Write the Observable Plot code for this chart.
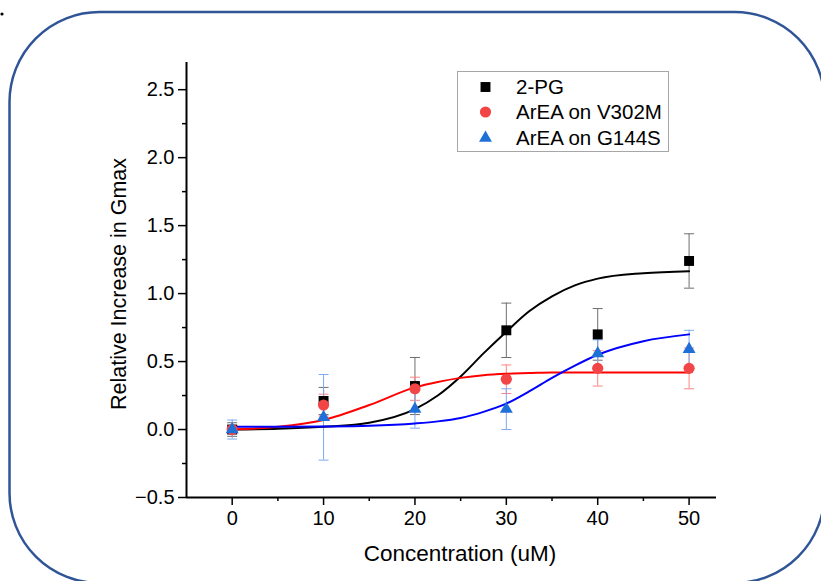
<!DOCTYPE html>
<html>
<head>
<meta charset="utf-8">
<script src="https://cdn.jsdelivr.net/npm/d3@7"></script>
<script src="https://cdn.jsdelivr.net/npm/@observablehq/plot@0.6"></script>
<style>
  html, body { margin: 0; padding: 0; background: #fff; }
  #chart svg { display: block; }
</style>
</head>
<body>
<div id="chart"></div>
<script>
// ---- data ----
const concentrations = [0, 10, 20, 30, 40, 50];
const seriesNames = ["2-PG", "ArEA on V302M", "ArEA on G144S"];

const pgMean   = [0.00, 0.21, 0.32, 0.73, 0.70, 1.24];
const pgErr    = [0.05, 0.10, 0.21, 0.20, 0.19, 0.20];
const v302mMean = [0.00, 0.18, 0.30, 0.37, 0.45, 0.45];
const v302mErr  = [0.03, 0.08, 0.085, 0.105, 0.13, 0.15];
const g144sMean = [0.00, 0.09, 0.15, 0.15, 0.56, 0.59];
const g144sErr  = [0.07, 0.315, 0.14, 0.15, 0.10, 0.14];

// fitted curves
const fitX      = [0, 5, 10, 15, 20, 22.5, 25, 27.5, 30, 32.5, 35, 37.5, 40, 45, 50];
const pgFit     = [0.00, 0.005, 0.02, 0.05, 0.15, 0.25, 0.39, 0.56, 0.72, 0.87, 0.98, 1.06, 1.11, 1.15, 1.165];
const v302mFit  = [0.00, 0.02, 0.07, 0.18, 0.31, 0.35, 0.38, 0.40, 0.41, 0.415, 0.42, 0.42, 0.42, 0.42, 0.42];
const g144sFit  = [0.02, 0.02, 0.022, 0.028, 0.045, 0.06, 0.085, 0.13, 0.19, 0.28, 0.38, 0.47, 0.55, 0.65, 0.70];

const yTicks = [-0.5, 0.0, 0.5, 1.0, 1.5, 2.0, 2.5];
const yMinorTicks = [-0.25, 0.25, 0.75, 1.25, 1.75, 2.25];
const xTicks = [0, 10, 20, 30, 40, 50];
const xMinorTicks = [5, 15, 25, 35, 45];

const xTitle = "Concentration (uM)";
const yTitle = "Relative Increase in Gmax";

// ---- styles ----
const styles = [
  {symbol: "square",   r: 5.6, fill: "#000000", err: "#6e6e6e", line: "#000000"},
  {symbol: "circle",   r: 5.6, fill: "#F24646", err: "#FF8585", line: "#FF0000"},
  {symbol: "triangle", r: 4.8, fill: "#1F6FD8", err: "#7CAAEE", line: "#0000FF"}
];

const means = [pgMean, v302mMean, g144sMean];
const errs = [pgErr, v302mErr, g144sErr];
const fits = [pgFit, v302mFit, g144sFit];

const points = [];
seriesNames.forEach((name, s) => {
  concentrations.forEach((c, i) => {
    points.push({s, name, x: c, y: means[s][i], lo: means[s][i] - errs[s][i], hi: means[s][i] + errs[s][i]});
  });
});
const curves = [];
seriesNames.forEach((name, s) => {
  fitX.forEach((x, i) => curves.push({s, name, x, y: fits[s][i]}));
});

const capSymbol = {
  draw(ctx, size) {
    const w = Math.sqrt(size / Math.PI);
    ctx.moveTo(-w, 0);
    ctx.lineTo(w, 0);
  }
};

const marks = [];
// error bars
styles.forEach((st, s) => {
  const d = points.filter(p => p.s === s);
  marks.push(Plot.ruleX(d, {x: "x", y1: "lo", y2: "hi", stroke: st.err, strokeWidth: 1}));
  marks.push(Plot.dot(d, {x: "x", y: "lo", symbol: capSymbol, r: 5, stroke: st.err, strokeWidth: 1, fill: "none"}));
  marks.push(Plot.dot(d, {x: "x", y: "hi", symbol: capSymbol, r: 5, stroke: st.err, strokeWidth: 1, fill: "none"}));
});
// fitted curves
styles.forEach((st, s) => {
  marks.push(Plot.line(curves.filter(c => c.s === s), {x: "x", y: "y", stroke: st.line, strokeWidth: 2, curve: "monotone-x"}));
});
// markers
styles.forEach((st, s) => {
  marks.push(Plot.dot(points.filter(p => p.s === s), {x: "x", y: "y", symbol: st.symbol, r: st.r, fill: st.fill, stroke: "none"}));
});

const chart = Plot.plot({
  width: 821,
  height: 581,
  marginLeft: 186,
  marginRight: 105,
  marginTop: 62,
  marginBottom: 84,
  style: {fontFamily: "'Liberation Sans', Arial, sans-serif", background: "#fff", color: "#000"},
  x: {domain: [-5, 53]},
  y: {domain: [-0.5, 2.7]},
  marks: [
    ...marks,
    Plot.axisY(yTicks, {tickSize: 8, tickPadding: 4, tickFormat: d3.format(".1f"), fontSize: 20, strokeWidth: 1.5, label: null}),
    Plot.axisY(yMinorTicks, {tickSize: 4, tickFormat: () => "", strokeWidth: 1.5, label: null}),
    Plot.axisX(xTicks, {tickSize: 8, tickPadding: 5, tickFormat: d3.format("d"), fontSize: 20, strokeWidth: 1.5, label: null}),
    Plot.axisX(xMinorTicks, {tickSize: 4, tickFormat: () => "", strokeWidth: 1.5, label: null}),
    Plot.ruleX([-5], {strokeWidth: 2}),
    Plot.ruleY([-0.5], {strokeWidth: 2})
  ]
});

document.getElementById("chart").appendChild(chart);

// ---- decorations: frame, titles, legend ----
const svg = d3.select(chart);
svg.insert("rect", ":first-child")
  .attr("x", 9.5).attr("y", 12).attr("width", 815).attr("height", 571)
  .attr("rx", 90).attr("ry", 90)
  .attr("fill", "none").attr("stroke", "#2F5597").attr("stroke-width", 2.5);
svg.append("circle").attr("cx", 2).attr("cy", 14).attr("r", 1.6).attr("fill", "#000");

svg.append("text")
  .attr("x", 460).attr("y", 561)
  .attr("text-anchor", "middle")
  .attr("font-size", 22.5)
  .attr("fill", "#000")
  .text(xTitle);
svg.append("text")
  .attr("transform", "translate(126,284) rotate(-90)")
  .attr("text-anchor", "middle")
  .attr("font-size", 21.5)
  .attr("fill", "#000")
  .text(yTitle);

const lg = svg.append("g");
lg.append("rect")
  .attr("x", 457.5).attr("y", 71.5).attr("width", 211).attr("height", 80)
  .attr("fill", "#fff").attr("stroke", "#a6a6a6").attr("stroke-width", 1);
const symMap = {square: d3.symbolSquare, circle: d3.symbolCircle, triangle: d3.symbolTriangle};
const rowY = [87, 112, 138];
seriesNames.forEach((name, s) => {
  const st = styles[s];
  lg.append("path")
    .attr("transform", `translate(485.5,${rowY[s]})`)
    .attr("d", d3.symbol(symMap[st.symbol], st.r * st.r * Math.PI)())
    .attr("fill", st.fill);
  lg.append("text")
    .attr("x", 516).attr("y", rowY[s])
    .attr("dy", "0.36em")
    .attr("text-anchor", "start")
    .attr("font-size", 20.5)
    .attr("fill", "#000")
    .text(name);
});
</script>
</body>
</html>
